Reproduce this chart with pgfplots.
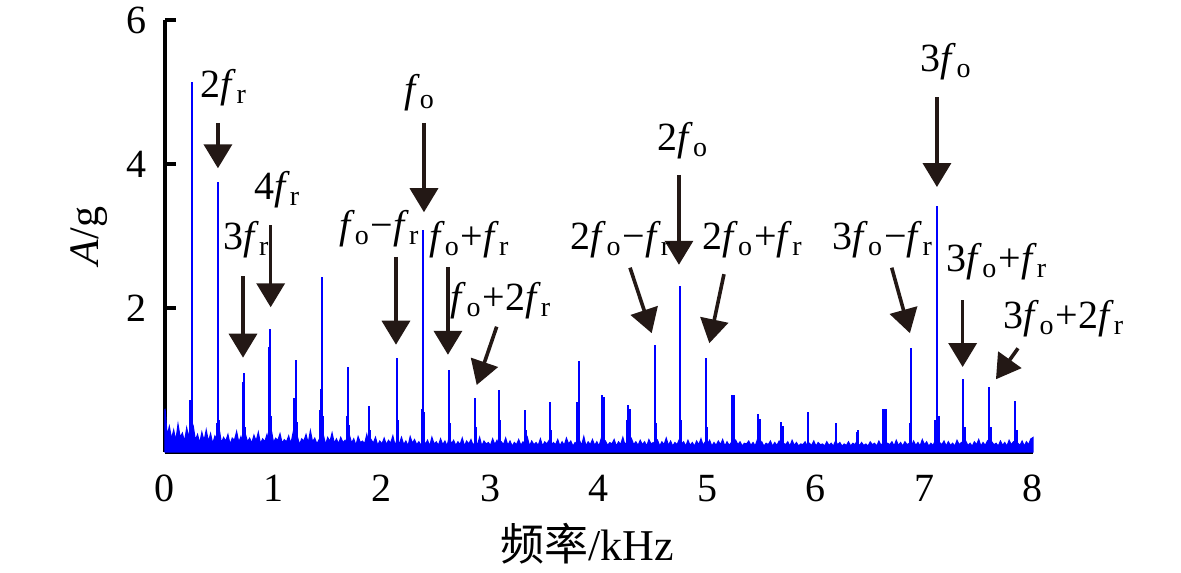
\documentclass[border=0pt]{standalone}
\usepackage{pgfplots}
\pgfplotsset{compat=1.18}
\usepackage{fontspec}
\setmainfont{Liberation Serif}
\newfontfamily\cjk{Noto Sans CJK SC}
\usetikzlibrary{arrows.meta}
\definecolor{arrowc}{HTML}{231815}
\newcommand{\sub}[1]{\textsubscript{#1}}
\newcommand{\fo}{\textit{f}\sub{o}}
\newcommand{\fr}{\textit{f}\sub{r}}
\newcommand{\mn}{−}
\tikzset{
  arr/.style={line width=0.9pt, draw=arrowc, -{Triangle[width=7pt,length=6pt,fill=arrowc]}},
  lab/.style={anchor=base west, inner sep=0pt, font=\fontsize{10}{12}\selectfont, text=black},
}
\begin{document}
\begin{tikzpicture}
\useasboundingbox (-41.25pt,-30.25pt) rectangle (254pt,113pt);
\begin{axis}[
  scale only axis,
  width=217pt, height=108pt,
  at={(0,0)}, anchor=south west,
  xmin=0, xmax=8, ymin=0, ymax=6,
  axis lines*=left,
  axis line style={line width=1pt, black},
  xtick={0,1,...,8}, ytick={2,4,6},
  xtick style={draw=none},
  ytick style={line width=1pt, black},
  tick align=inside,
  major tick length=2.75pt,
  /pgf/number format/assume math mode=true,
  tick label style={font=\fontsize{10}{12}\selectfont},
  yticklabel style={xshift=-1pt},
  xticklabel style={yshift=-2.2pt},
  every axis x label/.style={at={(axis description cs:0.486,-0.213)}, anchor=center, font=\fontsize{11}{13}\selectfont},
  every axis y label/.style={at={(axis description cs:-0.0876,0.5)}, rotate=90, anchor=center, font=\fontsize{10.5}{12}\selectfont},
  xlabel={{\cjk 频率}/kHz},
  ylabel={\textit{A}/g},
  clip=false,
]
% noise floor, one value every 0.02 kHz
\addplot[blue, fill=blue, line width=0.3pt, mark=none] table[row sep=\\, header=false, x expr=\coordindex*0.02, y index=0] {
0.60\\0.22\\0.35\\0.18\\0.30\\0.15\\0.38\\0.20\\0.26\\0.14\\0.33\\0.19\\0.45\\0.36\\0.16\\0.24\\0.12\\0.27\\0.15\\0.30\\
0.14\\0.25\\0.11\\0.22\\0.17\\0.31\\0.12\\0.20\\0.15\\0.24\\0.10\\0.19\\0.16\\0.28\\0.13\\0.21\\0.11\\0.25\\0.14\\0.19\\
0.12\\0.23\\0.15\\0.27\\0.11\\0.18\\0.14\\0.24\\0.10\\0.30\\0.13\\0.19\\0.16\\0.25\\0.12\\0.17\\0.14\\0.22\\0.11\\0.26\\
0.13\\0.21\\0.10\\0.18\\0.15\\0.24\\0.12\\0.29\\0.14\\0.19\\0.11\\0.17\\0.13\\0.23\\0.10\\0.20\\0.14\\0.26\\0.12\\0.18\\
0.11\\0.20\\0.13\\0.16\\0.10\\0.23\\0.12\\0.18\\0.09\\0.21\\0.13\\0.15\\0.11\\0.24\\0.10\\0.17\\0.12\\0.20\\0.09\\0.15\\
0.11\\0.19\\0.10\\0.16\\0.12\\0.22\\0.09\\0.17\\0.11\\0.20\\0.10\\0.15\\0.08\\0.21\\0.12\\0.17\\0.10\\0.14\\0.09\\0.19\\
0.10\\0.16\\0.08\\0.20\\0.11\\0.14\\0.09\\0.18\\0.10\\0.15\\0.08\\0.21\\0.11\\0.16\\0.09\\0.14\\0.10\\0.19\\0.08\\0.15\\
0.11\\0.17\\0.09\\0.14\\0.10\\0.20\\0.08\\0.15\\0.11\\0.13\\0.09\\0.18\\0.10\\0.16\\0.08\\0.14\\0.10\\0.19\\0.09\\0.15\\
0.08\\0.13\\0.10\\0.17\\0.09\\0.14\\0.11\\0.20\\0.08\\0.15\\0.10\\0.13\\0.09\\0.18\\0.08\\0.14\\0.11\\0.16\\0.09\\0.13\\
0.10\\0.17\\0.08\\0.14\\0.09\\0.19\\0.11\\0.15\\0.08\\0.13\\0.10\\0.16\\0.09\\0.21\\0.08\\0.14\\0.10\\0.17\\0.09\\0.14\\
0.08\\0.18\\0.10\\0.15\\0.09\\0.13\\0.11\\0.17\\0.08\\0.14\\0.10\\0.20\\0.09\\0.15\\0.08\\0.18\\0.10\\0.14\\0.09\\0.16\\
0.10\\0.14\\0.08\\0.17\\0.11\\0.13\\0.09\\0.16\\0.08\\0.14\\0.10\\0.19\\0.09\\0.15\\0.08\\0.13\\0.10\\0.17\\0.11\\0.14\\
0.08\\0.16\\0.09\\0.13\\0.08\\0.15\\0.10\\0.18\\0.09\\0.14\\0.11\\0.16\\0.08\\0.13\\0.09\\0.15\\0.10\\0.17\\0.08\\0.14\\
0.09\\0.13\\0.08\\0.16\\0.10\\0.14\\0.08\\0.12\\0.11\\0.15\\0.09\\0.13\\0.08\\0.17\\0.09\\0.14\\0.08\\0.12\\0.10\\0.15\\
0.08\\0.13\\0.09\\0.15\\0.08\\0.12\\0.10\\0.14\\0.08\\0.16\\0.09\\0.13\\0.08\\0.11\\0.10\\0.14\\0.08\\0.12\\0.09\\0.15\\
0.08\\0.13\\0.10\\0.11\\0.08\\0.14\\0.09\\0.12\\0.08\\0.15\\0.10\\0.13\\0.08\\0.11\\0.09\\0.14\\0.08\\0.12\\0.10\\0.16\\
0.08\\0.13\\0.09\\0.11\\0.08\\0.14\\0.10\\0.12\\0.08\\0.15\\0.09\\0.13\\0.08\\0.12\\0.10\\0.14\\0.08\\0.16\\0.09\\0.13\\
0.08\\0.14\\0.10\\0.12\\0.08\\0.15\\0.09\\0.13\\0.08\\0.17\\0.10\\0.14\\0.08\\0.12\\0.09\\0.16\\0.08\\0.13\\0.10\\0.15\\
0.08\\0.14\\0.09\\0.12\\0.08\\0.16\\0.10\\0.13\\0.08\\0.15\\0.09\\0.12\\0.08\\0.14\\0.10\\0.17\\0.08\\0.13\\0.09\\0.15\\
0.08\\0.14\\0.10\\0.12\\0.08\\0.15\\0.09\\0.13\\0.08\\0.16\\0.10\\0.14\\0.08\\0.12\\0.09\\0.15\\0.08\\0.14\\0.10\\0.18\\
0.20\\
} \closedcycle;
% spectral peaks and their side lines
\addplot[blue, ycomb, line width=0.5pt, mark=none] coordinates {
(0.25,5.14) (0.235,0.72) (0.488,3.75) (0.475,0.40) (0.50,0.45)
(0.725,1.10) (0.715,0.97) (0.74,0.35)
(0.968,1.71) (0.955,1.46) (0.98,0.50)
(1.204,1.28) (1.19,0.75) (1.22,0.42)
(1.447,2.43) (1.44,0.87) (1.43,0.58) (1.46,0.50)
(1.687,1.18) (1.675,0.50) (1.70,0.38)
(1.88,0.64) (1.89,0.30)
(2.138,1.31) (2.15,0.45)
(2.378,3.08) (2.365,0.60) (2.39,0.55)
(2.618,1.14) (2.63,0.40)
(2.857,0.75) (2.87,0.35)
(3.078,0.86) (3.09,0.45)
(3.315,0.58) (3.33,0.30)
(3.548,0.69) (3.56,0.30)
(3.813,1.26) (3.80,0.69) (3.82,0.40)
(4.03,0.79) (4.045,0.76)
(4.27,0.65) (4.285,0.60) (4.26,0.45)
(4.513,1.49) (4.525,0.40)
(4.747,2.31) (4.76,0.45)
(4.986,1.31) (5.0,0.35)
(5.23,0.79) (5.245,0.79)
(5.466,0.53) (5.48,0.46)
(5.68,0.42) (5.70,0.36)
(5.926,0.55)
(6.18,0.40)
(6.375,0.28) (6.39,0.30)
(6.617,0.60) (6.63,0.60) (6.645,0.60)
(6.876,1.44) (6.865,0.40)
(7.115,3.42) (7.10,0.45) (7.13,0.50)
(7.355,1.01) (7.37,0.35)
(7.594,0.90) (7.61,0.35)
(7.834,0.71) (7.85,0.30)
};
% arrows
\draw[arr] (axis cs:0.488,4.57) -- (axis cs:0.488,3.94);
\draw[arr] (axis cs:0.719,2.44) -- (axis cs:0.719,1.31);
\draw[arr] (axis cs:0.974,3.15) -- (axis cs:0.974,2.01);
\draw[arr] (axis cs:2.387,4.57) -- (axis cs:2.387,3.33);
\draw[arr] (axis cs:2.129,2.71) -- (axis cs:2.129,1.49);
\draw[arr] (axis cs:2.608,2.57) -- (axis cs:2.608,1.35);
\draw[arr] (axis cs:3.057,1.74) -- (axis cs:2.873,0.93);
\draw[arr] (axis cs:4.737,3.85) -- (axis cs:4.737,2.60);
\draw[arr] (axis cs:4.286,2.56) -- (axis cs:4.486,1.65);
\draw[arr] (axis cs:5.152,2.47) -- (axis cs:5.017,1.51);
\draw[arr] (axis cs:7.115,4.93) -- (axis cs:7.115,3.68);
\draw[arr] (axis cs:6.698,2.56) -- (axis cs:6.866,1.65);
\draw[arr] (axis cs:7.352,2.11) -- (axis cs:7.352,1.18);
\draw[arr] (axis cs:7.862,1.44) -- (axis cs:7.659,1.01);
% labels
\node[lab] at (axis cs:0.323,4.92) {2\fr};
\node[lab] at (axis cs:0.532,2.81) {3\fr};
\node[lab] at (axis cs:0.814,3.50) {4\fr};
\node[lab] at (axis cs:2.196,4.86) {\fo};
\node[lab] at (axis cs:1.597,2.97) {\fo\mn\fr};
\node[lab] at (axis cs:2.427,2.81) {\fo+\fr};
\node[lab] at (axis cs:2.627,1.97) {\fo+2\fr};
\node[lab] at (axis cs:4.532,4.19) {2\fo};
\node[lab] at (axis cs:3.733,2.81) {2\fo\mn\fr};
\node[lab] at (axis cs:4.946,2.81) {2\fo+\fr};
\node[lab] at (axis cs:6.959,5.28) {3\fo};
\node[lab] at (axis cs:6.145,2.81) {3\fo\mn\fr};
\node[lab] at (axis cs:7.198,2.50) {3\fo+\fr};
\node[lab] at (axis cs:7.724,1.72) {3\fo+2\fr};
\end{axis}
\end{tikzpicture}
\end{document}
